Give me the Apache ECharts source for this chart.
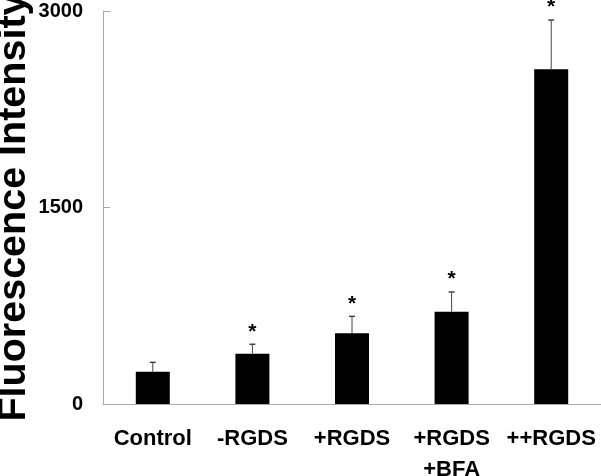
<!DOCTYPE html>
<html>
<head>
<meta charset="utf-8">
<script src="https://cdn.jsdelivr.net/npm/echarts@6/dist/echarts.min.js"></script>
<style>html,body{margin:0;padding:0;background:#fff;}#c{width:601px;height:476px;}</style>
</head>
<body>
<div id="c"></div>
<script>
var categories = ['Control', '-RGDS', '+RGDS', '+RGDS\n+BFA', '++RGDS'];
var means = [246, 384, 540, 705, 2555];
var errorTops = [318, 456, 669, 855, 2931];
var significant = [false, true, true, true, true];
var yTicks = [0, 1500, 3000];

var FONT = '"Liberation Sans", Arial, sans-serif';
var chart = echarts.init(document.getElementById('c'));

var errData = categories.map(function (c, i) { return [i, means[i], errorTops[i]]; });
var starData = categories.map(function (c, i) { return significant[i] ? [i, errorTops[i]] : null; }).filter(Boolean);

chart.setOption({
  animation: false,
  grid: { left: 103, right: 0, top: 11, bottom: 72, containLabel: false, outerBoundsMode: 'none' },
  xAxis: {
    type: 'category',
    data: categories,
    axisLine: { lineStyle: { color: '#aaaaaa', width: 1 } },
    axisTick: { show: false },
    axisLabel: { color: '#000', fontFamily: FONT, fontWeight: 'bold', fontSize: 22, lineHeight: 31, margin: 19, interval: 0 }
  },
  yAxis: {
    type: 'value',
    min: 0, max: 3000, interval: 1500,
    name: 'Fluorescence Intensity',
    nameLocation: 'middle',
    nameGap: 69,
    nameMoveOverlap: false,
    nameTextStyle: { color: '#000', fontFamily: FONT, fontWeight: 'bold', fontSize: 39.5 },
    axisLine: { show: true, lineStyle: { color: '#aaaaaa', width: 1 } },
    axisTick: { show: true, inside: true, length: 7, lineStyle: { color: '#aaaaaa' } },
    splitLine: { show: false },
    axisLabel: {
      color: '#000', fontFamily: FONT, fontWeight: 'bold', fontSize: 20, margin: 20,
      formatter: function (v) { return yTicks.indexOf(v) >= 0 ? String(v) : ''; }
    }
  },
  series: [
    {
      type: 'bar',
      data: means,
      barWidth: 34,
      itemStyle: { color: '#000' }
    },
    {
      type: 'custom',
      data: errData,
      z: 3,
      renderItem: function (params, api) {
        var x = api.value(0);
        var base = api.coord([x, api.value(1)]);
        var top = api.coord([x, api.value(2)]);
        var cw = 3;
        return {
          type: 'group',
          children: [
            { type: 'line', shape: { x1: base[0], y1: base[1], x2: top[0], y2: top[1] }, style: { stroke: '#444', lineWidth: 1 } },
            { type: 'line', shape: { x1: top[0] - cw, y1: top[1], x2: top[0] + cw, y2: top[1] }, style: { stroke: '#444', lineWidth: 1.5 } }
          ]
        };
      }
    },
    {
      type: 'custom',
      data: starData,
      z: 4,
      renderItem: function (params, api) {
        var p = api.coord([api.value(0), api.value(1)]);
        return {
          type: 'text',
          style: { text: '*', x: p[0], y: p[1] - 2, align: 'center', verticalAlign: 'bottom', fill: '#000', font: 'bold 21px ' + FONT }
        };
      }
    }
  ]
});
</script>
</body>
</html>
